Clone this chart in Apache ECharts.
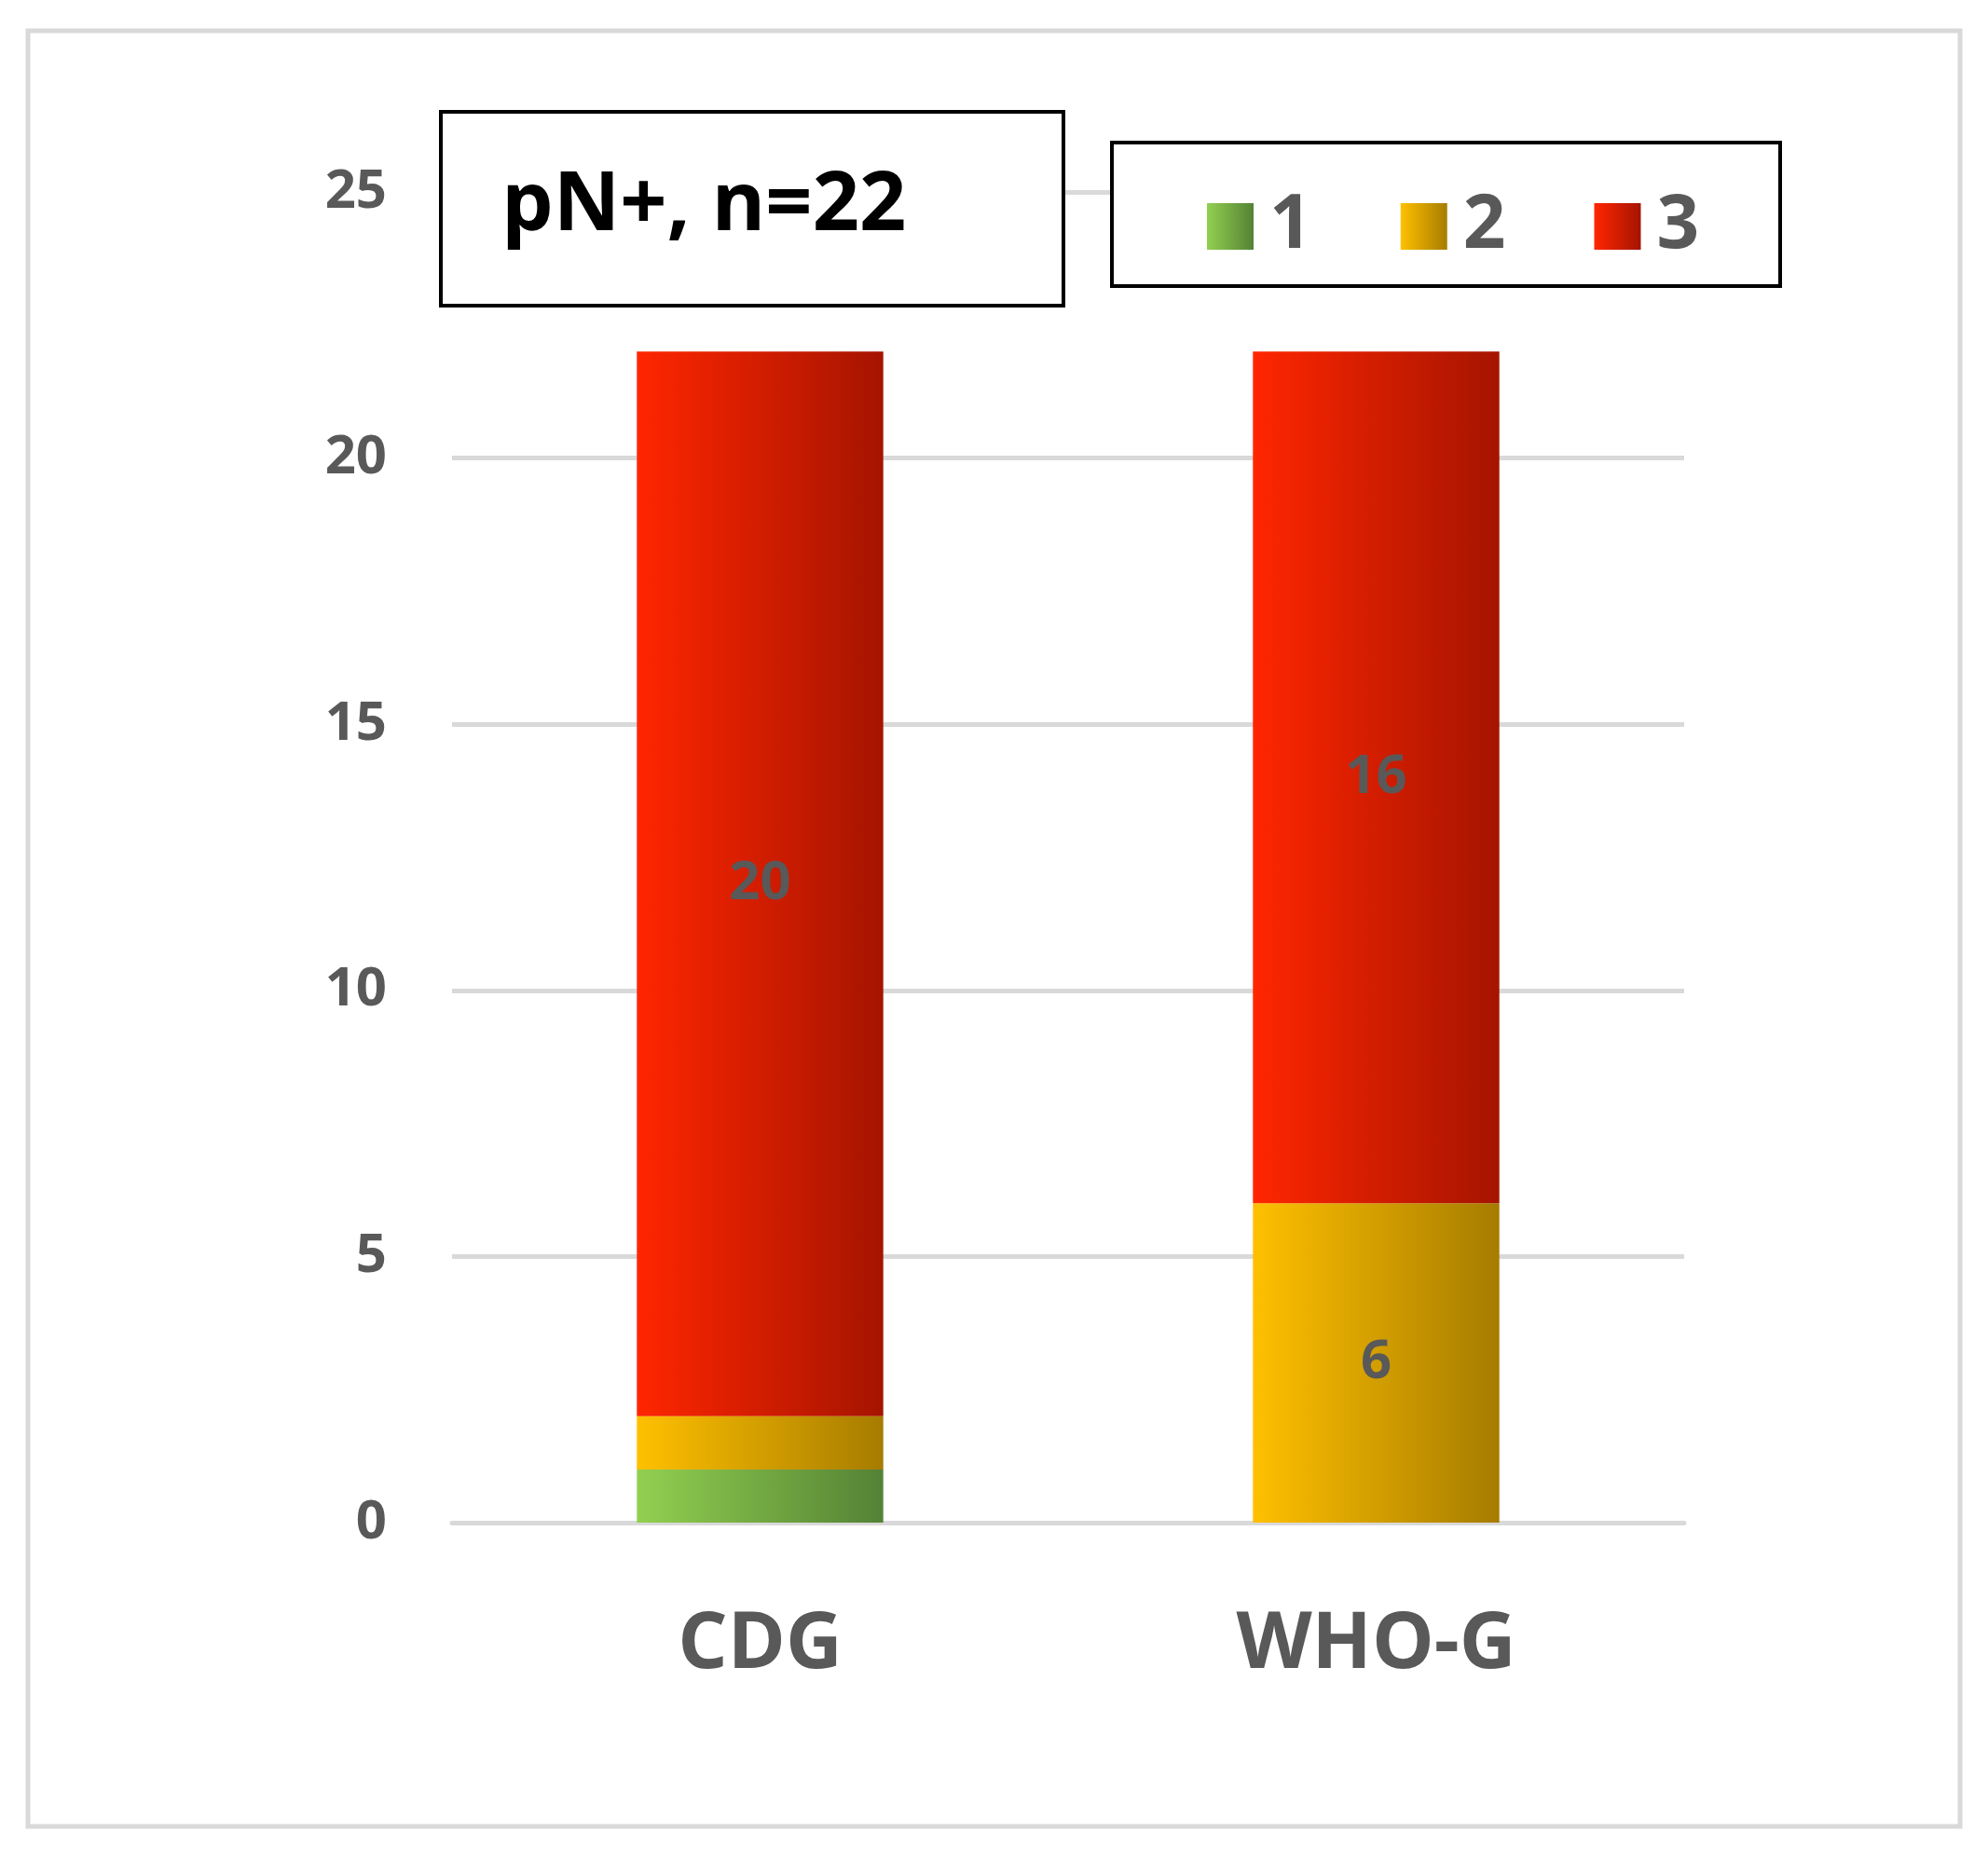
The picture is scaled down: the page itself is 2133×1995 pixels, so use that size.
<!DOCTYPE html>
<html><head><meta charset="utf-8">
<script src="https://cdn.jsdelivr.net/npm/echarts@6/dist/echarts.min.js"></script>
<style>html,body{margin:0;background:#fff}#chart{width:2133px;height:1995px}</style>
</head><body><div id="chart"></div>
<script>
var categories = ['CDG', 'WHO-G'];
var grade1 = [1, 0];
var grade2 = [1, 6];
var grade3 = [20, 16];
var seriesNames = ['1', '2', '3'];

function grad(a, b) {
    return new echarts.graphic.LinearGradient(0, 0, 1, 0, [{ offset: 0, color: a }, { offset: 1, color: b }]);
}
var fills = [grad('#92d050', '#548235'), grad('#ffc000', '#a67c00'), grad('#ff2600', '#a51400')];
var chart = echarts.init(document.getElementById('chart'));
var font = 'Open Sans, DejaVu Sans, sans-serif';

function label(show) {
    return {
        show: true, fontSize: 58, fontWeight: 'bold', color: '#595959', fontFamily: font,
        formatter: function (p) { return (show && p.value > 1) ? p.value : ''; }
    };
}

chart.setOption({
    animation: false,
    grid: { left: 485, right: 326, top: 206, bottom: 361 },
    legend: {
        left: 1290, top: 198, itemWidth: 50, itemHeight: 50, itemGap: 95, icon: 'rect',
        textStyle: { fontSize: 80, fontWeight: 'bold', color: '#595959', fontFamily: font, padding: [0, 0, 0, 12] },
        data: seriesNames
    },
    xAxis: {
        type: 'category', data: categories,
        axisLine: { show: true, lineStyle: { color: '#d9d9d9', width: 5 } },
        axisTick: { show: false },
        axisLabel: { fontSize: 84, fontWeight: 'bold', color: '#595959', fontFamily: font, margin: 90 }
    },
    yAxis: {
        type: 'value', min: 0, max: 25, interval: 5,
        axisLine: { show: false }, axisTick: { show: false },
        splitLine: { lineStyle: { color: '#d9d9d9', width: 5 } },
        axisLabel: { fontSize: 58, fontWeight: 'bold', color: '#595959', fontFamily: font, margin: 70 }
    },
    series: [
        { name: '1', type: 'bar', stack: 's', data: grade1, barWidth: '40%', itemStyle: { color: fills[0] }, label: label(false) },
        { name: '2', type: 'bar', stack: 's', data: grade2, itemStyle: { color: fills[1] }, label: label(true) },
        { name: '3', type: 'bar', stack: 's', data: grade3, itemStyle: { color: fills[2] }, label: label(true) }
    ],
    graphic: [
        { type: 'rect', shape: { x: 30, y: 33, width: 2073, height: 1927 }, style: { fill: null, stroke: '#d9d9d9', lineWidth: 5 } },
        { type: 'rect', shape: { x: 473, y: 120, width: 668, height: 208 }, style: { fill: '#fff', stroke: '#000', lineWidth: 4 }, z: 5 },
        { type: 'text', left: 538, top: 178, z: 6, style: { text: 'pN+, n=22', fontSize: 88, fontWeight: 'bold', fill: '#000', fontFamily: font } },
        { type: 'rect', shape: { x: 1193, y: 153, width: 717, height: 154 }, style: { fill: '#fff', stroke: '#000', lineWidth: 4 }, z: 1 }
    ]
});
</script></body></html>
